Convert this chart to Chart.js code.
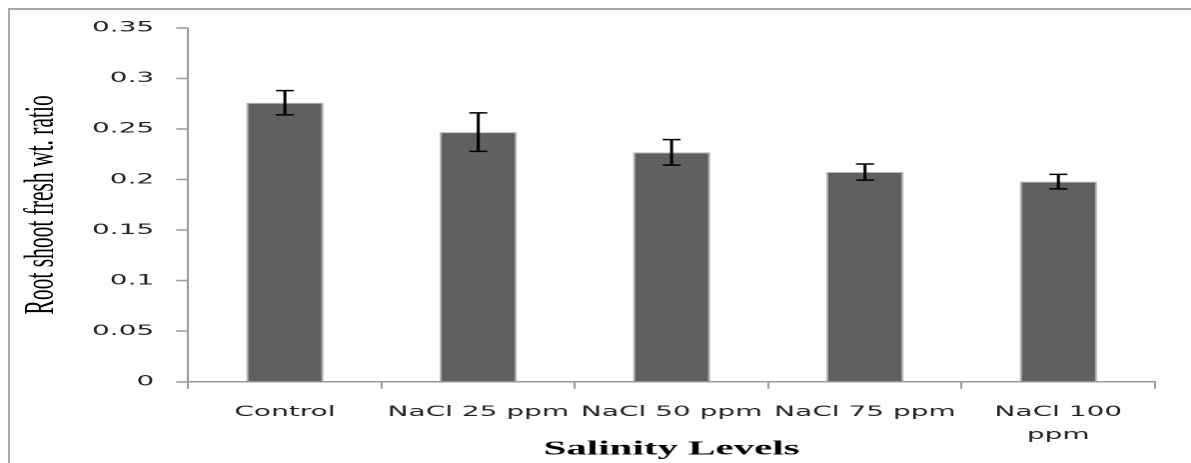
<!DOCTYPE html>
<html><head><meta charset="utf-8">
<script src="https://cdn.jsdelivr.net/npm/chart.js@4/dist/chart.umd.min.js"></script>
<style>
html,body{margin:0;padding:0;background:#fff;width:1191px;height:463px;overflow:hidden;position:relative;}
#frame{position:absolute;left:8px;top:8px;width:1200px;height:470px;border-left:2px solid #a8a8a8;border-top:2px solid #a8a8a8;}
#wrap{position:absolute;left:0;top:0;width:596px;height:463px;transform-origin:0 0;transform:scaleX(1.99832);}
</style></head><body>
<div id="frame"></div>
<div id="wrap"><canvas id="c"></canvas></div>
<script>
const categories = ['Control', 'NaCl 25 ppm', 'NaCl 50 ppm', 'NaCl 75 ppm', ['NaCl 100', 'ppm']];
const rootShootRatio = [0.276, 0.247, 0.227, 0.2075, 0.198];
const stdError = [0.012, 0.019, 0.0126, 0.008, 0.0072];
const yTickValues = [0, 0.05, 0.1, 0.15, 0.2, 0.25, 0.3, 0.35];
const yTickLabels = ['0', '0.05', '0.1', '0.15', '0.2', '0.25', '0.3', '0.35'];
const yAxisTitle = 'Root shoot fresh wt. ratio';
const xAxisTitle = 'Salinity Levels';

const errorBars = {
  id: 'errorBars',
  afterDatasetsDraw(chart) {
    const ctx = chart.ctx;
    const meta = chart.getDatasetMeta(0);
    const y = chart.scales.y;
    ctx.save();
    ctx.strokeStyle = '#000';
    ctx.lineWidth = 1.5;
    meta.data.forEach((bar, i) => {
      const v = rootShootRatio[i], e = stdError[i];
      const yt = y.getPixelForValue(v + e), yb = y.getPixelForValue(v - e);
      const x = bar.x, hw = 4.5;
      ctx.beginPath();
      ctx.moveTo(x, yt); ctx.lineTo(x, yb);
      ctx.moveTo(x - hw, yt); ctx.lineTo(x + hw, yt);
      ctx.moveTo(x - hw, yb); ctx.lineTo(x + hw, yb);
      ctx.stroke();
    });
    ctx.restore();
  }
};

new Chart(document.getElementById('c'), {
  type: 'bar',
  data: {
    labels: categories,
    datasets: [{
      data: rootShootRatio,
      backgroundColor: '#606060',
      borderColor: '#b4b4b4',
      borderWidth: 1,
      categoryPercentage: 1,
      barPercentage: 0.4
    }]
  },
  options: {
    responsive: true,
    maintainAspectRatio: false,
    devicePixelRatio: 2,
    animation: false,
    layout: { padding: { left: 0, top: 28, right: 18, bottom: 0 } },
    plugins: { legend: { display: false }, tooltip: { enabled: false } },
    scales: {
      x: {
        offset: true,
        grid: { display: true, drawOnChartArea: false, drawTicks: true, tickLength: 7, tickColor: '#999', tickWidth: 1, offset: true },
        border: { display: true, color: '#999', width: 1.5 },
        ticks: { font: { family: 'DejaVu Sans', size: 14, lineHeight: 1.64 }, color: '#222', padding: 12, maxRotation: 0, autoSkip: false },
        title: { display: true, text: xAxisTitle, font: { family: 'Liberation Serif', size: 20.5, weight: 'bold' }, color: '#000', padding: { top: -22, bottom: 1.7 } }
      },
      y: {
        min: 0,
        max: 0.35,
        afterBuildTicks: (axis) => { axis.ticks = yTickValues.map(v => ({ value: v })); },
        grid: { drawOnChartArea: false, drawTicks: true, tickLength: 6, tickColor: '#999', tickWidth: 1.5 },
        border: { display: true, color: '#999', width: 1 },
        ticks: { font: { family: 'DejaVu Sans', size: 14 }, color: '#222', padding: 11, callback: (v, i) => yTickLabels[i] },
        title: { display: true, text: yAxisTitle, font: { family: 'Liberation Serif', size: 21.5 }, color: '#000', padding: { top: 8.2, bottom: 1 } }
      }
    }
  },
  plugins: [errorBars]
});
</script>
</body></html>
